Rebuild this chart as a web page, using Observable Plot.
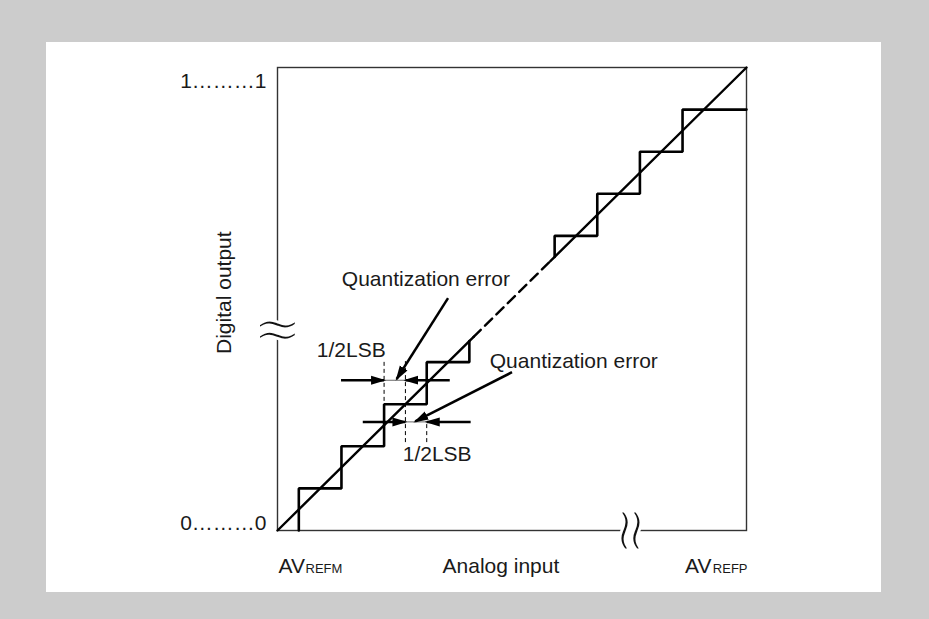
<!DOCTYPE html>
<html>
<head>
<meta charset="utf-8">
<script src="https://cdn.jsdelivr.net/npm/d3@7"></script>
<script src="https://cdn.jsdelivr.net/npm/@observablehq/plot@0.6"></script>
<style>
  html, body { margin: 0; padding: 0; background: #cccccc; width: 929px; height: 619px; overflow: hidden; }
  #panel { position: absolute; left: 46px; top: 42px; width: 835px; height: 550px; background: #ffffff; }
  #panel svg { overflow: visible; }
</style>
</head>
<body>
<div id="panel"></div>
<script>
// ---- data (in LSB units) ----
const stepsLowX  = [0.5, 0.5, 1.5, 1.5, 2.5, 2.5, 3.5, 3.5, 4.5, 4.5];
const stepsLowY  = [0,   1,   1,   2,   2,   3,   3,   4,   4,   4.5];
const stepsHighX = [6.5, 6.5, 7.5, 7.5, 8.5, 8.5, 9.5, 9.5, 11];
const stepsHighY = [6.5, 7,   7,   8,   8,   9,   9,   10,  10];

const idealSolidLow  = [0, 4.6];
const idealDashed    = [4.6, 6.4];
const idealSolidHigh = [6.4, 11];

// measurement arrows + quantization-error pointers
const arrowX1 = [1.49, 4.04, 2.0,  4.53, 4.0,   5.5];
const arrowY1 = [3.57, 3.57, 2.58, 2.58, 5.52,  3.76];
const arrowX2 = [2.5,  3.0,  3.0,  3.5,  2.795, 3.23];
const arrowY2 = [3.57, 3.57, 2.58, 2.58, 3.6,   2.59];

// thin spans between arrow tips
const spanX1 = [2.5, 3.0];
const spanX2 = [3.0, 3.5];
const spanY  = [3.57, 2.58];

// dashed 1/2 LSB guides
const guideX  = [2.5, 3.0, 3.5];
const guideY1 = [3.08, 2.1, 2.1];
const guideY2 = [4.07, 4.07, 2.6];

// annotations
const noteText = ["Quantization error", "Quantization error", "1/2LSB", "1/2LSB"];
const noteX    = [3.48, 6.95, 1.73, 3.745];
const noteY    = [5.97, 4.01, 4.285, 1.80];

// code labels on the vertical axis
const codeText = ["0………0", "1………1"];
const codeY    = [0.16, 10.67];

// axis titles
const xTitle = "Analog input";
const yTitle = "Digital output";
const refMain = "AV";
const refLow  = "REFM";
const refHigh = "REFP";

// axis break positions
const yBreak = 4.78;
const xBreak = 8.29;
const breakGlyph = "≈";

const pts = (xs, ys) => xs.map((x, i) => ({x, y: ys[i]}));
const diag = a => a.map(v => ({x: v, y: v}));
const arrows = arrowX1.map((d, i) => ({x1: d, y1: arrowY1[i], x2: arrowX2[i], y2: arrowY2[i]}));
const spans = spanX1.map((d, i) => ({x1: d, x2: spanX2[i], y: spanY[i]}));
const guides = guideX.map((d, i) => ({x: d, y1: guideY1[i], y2: guideY2[i]}));
const notes = noteText.map((t, i) => ({t, x: noteX[i], y: noteY[i]}));
const codes = codeText.map((t, i) => ({t, y: codeY[i]}));

const FONT = "Liberation Sans, Arial, Helvetica, sans-serif";
const INK = "#1a1a1a";

const chart = Plot.plot({
  width: 835,
  height: 550,
  marginLeft: 231,
  marginRight: 135,
  marginTop: 25,
  marginBottom: 62,
  x: {domain: [0, 11], axis: null},
  y: {domain: [0, 11], axis: null},
  style: {background: "transparent", fontFamily: FONT, color: INK},
  marks: [
    Plot.frame({stroke: "#333", strokeWidth: 1.4}),
    // ideal conversion line
    Plot.line(diag(idealSolidLow), {x: "x", y: "y", stroke: "#000", strokeWidth: 2.4}),
    Plot.line(diag(idealDashed), {x: "x", y: "y", stroke: "#000", strokeWidth: 2.4, strokeDasharray: "10,6"}),
    Plot.line(diag(idealSolidHigh), {x: "x", y: "y", stroke: "#000", strokeWidth: 2.4}),
    // staircase transfer characteristic
    Plot.line(pts(stepsLowX, stepsLowY), {x: "x", y: "y", stroke: "#000", strokeWidth: 2.6, strokeLinejoin: "miter"}),
    Plot.line(pts(stepsHighX, stepsHighY), {x: "x", y: "y", stroke: "#000", strokeWidth: 2.6, strokeLinejoin: "miter"}),
    // dashed guides
    Plot.link(guides, {x1: "x", x2: "x", y1: "y1", y2: "y2", stroke: "#000", strokeWidth: 1, strokeDasharray: "4,3"}),
    // thin spans
    Plot.link(spans, {x1: "x1", x2: "x2", y1: "y", y2: "y", stroke: "#666", strokeWidth: 1}),
    // arrows
    Plot.link(arrows, {x1: "x1", y1: "y1", x2: "x2", y2: "y2", stroke: "#000", strokeWidth: 2.5, markerEnd: "arrow"}),
    // axis breaks: gap in the axis line + thin double-tilde glyph
    Plot.dot([yBreak], {x: 0, y: d => d, symbol: "square", r: 6, fill: "#fff", stroke: "none"}),
    Plot.dot([xBreak], {x: d => d, y: 0, symbol: "square", r: 5, fill: "#fff", stroke: "none"}),
    Plot.text([yBreak], {x: 0, y: d => d, text: () => breakGlyph,
      fontFamily: "DejaVu Sans", fontSize: 60, fill: "#111", stroke: "#fff", strokeWidth: 2.8, paintOrder: "fill"}),
    Plot.text([xBreak], {x: d => d, y: 0, text: () => breakGlyph, rotate: 90,
      fontFamily: "DejaVu Sans", fontSize: 62, fill: "#111", stroke: "#fff", strokeWidth: 2.8, paintOrder: "fill"}),
    // annotations
    Plot.text(notes, {x: "x", y: "y", text: "t", fontSize: 21, fill: INK}),
    Plot.text(codes, {x: 0, y: "y", text: "t", textAnchor: "end", dx: -11, fontSize: 21, fill: INK}),
    Plot.text([yTitle], {x: -1.25, y: 5.65, text: d => d, rotate: -90, fontSize: 21, fill: INK}),
    Plot.text([xTitle], {x: 5.24, y: -1, text: d => d, lineAnchor: "bottom", fontSize: 21, fill: INK}),
    Plot.text([refMain], {x: 0, y: -1, text: d => d, textAnchor: "start", lineAnchor: "bottom", dx: 1, fontSize: 21, fill: INK}),
    Plot.text([refLow], {x: 0, y: -1, text: d => d, textAnchor: "start", lineAnchor: "bottom", dx: 28, fontSize: 13, fill: INK}),
    Plot.text([refMain], {x: 11, y: -1, text: d => d, textAnchor: "end", lineAnchor: "bottom", dx: -35, fontSize: 21, fill: INK}),
    Plot.text([refHigh], {x: 11, y: -1, text: d => d, textAnchor: "end", lineAnchor: "bottom", dx: 1, fontSize: 13, fill: INK})
  ]
});

// solid triangular arrowheads
chart.querySelectorAll("marker").forEach(m => {
  m.setAttribute("viewBox", "-13 -5 15 10");
  m.setAttribute("markerUnits", "userSpaceOnUse");
  m.setAttribute("markerWidth", "15");
  m.setAttribute("markerHeight", "10");
  m.setAttribute("refX", "0");
  m.setAttribute("refY", "0");
  m.setAttribute("fill", "#000");
  m.setAttribute("stroke", "none");
  m.innerHTML = '<path d="M-13,-4.5L2,0L-13,4.5Z"></path>';
});

document.getElementById("panel").appendChild(chart);
</script>
</body>
</html>
